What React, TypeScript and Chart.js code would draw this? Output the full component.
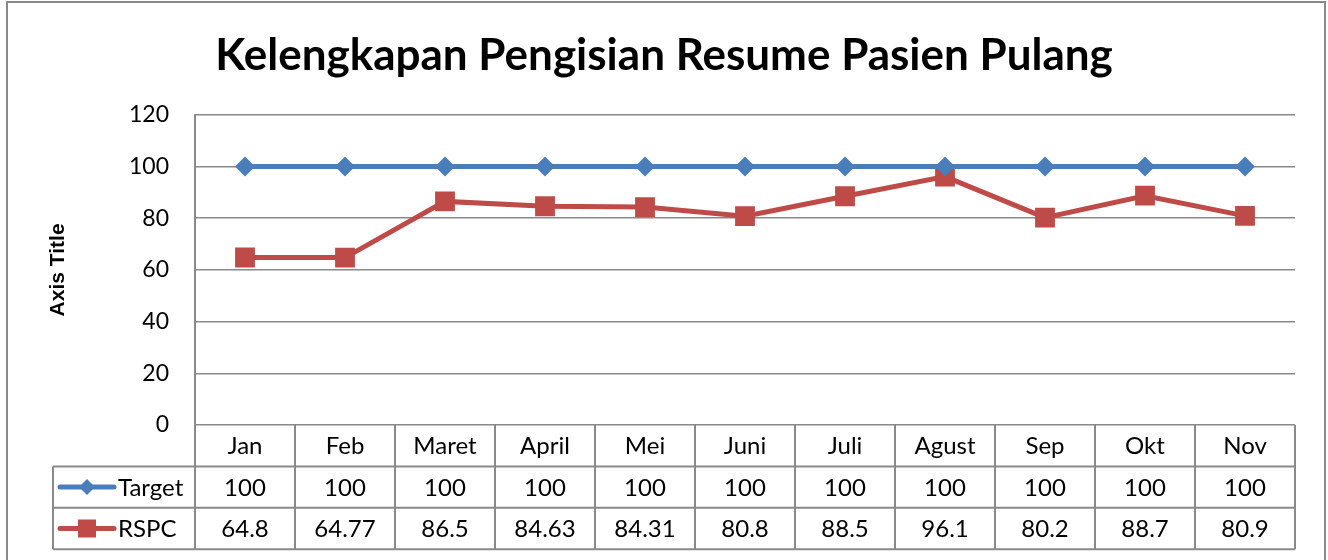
import React, { useEffect, useRef } from 'react';
import { Chart, registerables } from 'chart.js';

Chart.register(...registerables);

const titleText = 'Kelengkapan Pengisian Resume Pasien Pulang';
const yAxisTitle = 'Axis Title';
const categories = ['Jan', 'Feb', 'Maret', 'April', 'Mei', 'Juni', 'Juli', 'Agust', 'Sep', 'Okt', 'Nov'];
const targetValues = [100, 100, 100, 100, 100, 100, 100, 100, 100, 100, 100];
const rspcValues = [64.8, 64.77, 86.5, 84.63, 84.31, 80.8, 88.5, 96.1, 80.2, 88.7, 80.9];
const seriesNames = ['Target', 'RSPC'];
const yMin = 0;
const yMax = 120;
const yStep = 20;

const BLUE = '#4A7EBB';
const RED = '#BE4B48';
const GRID = '#898989';
const FONT = 'Lato, "Open Sans", sans-serif';

const frameAndTablePlugin = {
  id: 'frameAndTable',
  beforeDraw(chart: any) {
    const ctx = chart.ctx;
    ctx.save();
    ctx.fillStyle = '#ffffff';
    ctx.fillRect(0, 0, chart.width, chart.height);
    ctx.strokeStyle = GRID;
    ctx.lineWidth = 2;
    ctx.strokeRect(7, 2, 1318, 600);
    ctx.restore();
  },
  afterDraw(chart: any) {
    const ctx = chart.ctx;
    const xs = chart.scales.x;
    const area = chart.chartArea;
    const n = categories.length;
    const colW = (area.right - area.left) / n;
    const top = area.bottom;
    const rowH = 41.4;
    const legendLeft = 53;
    ctx.save();
    ctx.strokeStyle = GRID;
    ctx.lineWidth = 2;
    const line = (x1: number, y1: number, x2: number, y2: number) => {
      ctx.beginPath();
      ctx.moveTo(x1, y1);
      ctx.lineTo(x2, y2);
      ctx.stroke();
    };
    line(legendLeft, top + rowH, area.right, top + rowH);
    line(legendLeft, top + 2 * rowH, area.right, top + 2 * rowH);
    line(legendLeft, top + 3 * rowH, area.right, top + 3 * rowH);
    line(legendLeft, top + rowH, legendLeft, top + 3 * rowH);
    for (let i = 0; i <= n; i++) {
      const xb = area.left + i * colW;
      line(xb, top, xb, top + 3 * rowH);
    }
    ctx.fillStyle = '#000';
    ctx.font = `24px ${FONT}`;
    ctx.textAlign = 'center';
    ctx.textBaseline = 'middle';
    const rows = [targetValues, rspcValues];
    rows.forEach((vals, r) => {
      const cy = top + (r + 1.5) * rowH;
      vals.forEach((v, i) => {
        ctx.fillText(String(v), xs.getPixelForValue(i), cy + 1);
      });
    });
    // legend keys
    rows.forEach((_, r) => {
      const cy = top + (r + 1.5) * rowH;
      const color = r === 0 ? BLUE : RED;
      ctx.strokeStyle = color;
      ctx.lineWidth = 5;
      ctx.lineCap = 'round';
      line(60, cy, 114, cy);
      ctx.fillStyle = color;
      ctx.beginPath();
      if (r === 0) {
        ctx.moveTo(87, cy - 8);
        ctx.lineTo(95, cy);
        ctx.lineTo(87, cy + 8);
        ctx.lineTo(79, cy);
        ctx.closePath();
      } else {
        ctx.rect(78, cy - 9, 18, 18);
      }
      ctx.fill();
      ctx.fillStyle = '#000';
      ctx.textAlign = 'left';
      ctx.fillText(seriesNames[r], 118, cy + 1);
      ctx.textAlign = 'center';
    });
    ctx.restore();
  },
};

export default function App() {
  const ref = useRef<HTMLCanvasElement>(null);
  useEffect(() => {
    const canvas = ref.current;
    if (!canvas) return;
    const chart = new Chart(canvas, {
      type: 'line',
      data: {
        labels: categories,
        datasets: [
          {
            label: seriesNames[0],
            data: targetValues,
            borderColor: BLUE,
            backgroundColor: BLUE,
            borderWidth: 5,
            pointStyle: 'rectRot',
            pointRadius: 10,
            pointHoverRadius: 10,
            pointBorderWidth: 0,
            tension: 0,
          },
          {
            label: seriesNames[1],
            data: rspcValues,
            borderColor: RED,
            backgroundColor: RED,
            borderWidth: 5,
            pointStyle: 'rect',
            pointRadius: 14,
            pointHoverRadius: 14,
            pointBorderWidth: 0,
            tension: 0,
          },
        ],
      },
      options: {
        responsive: false,
        animation: false,
        layout: { padding: { top: 0, right: 0, bottom: 0, left: 0 } },
        plugins: {
          legend: { display: false },
          tooltip: { enabled: false },
          title: {
            display: true,
            text: titleText,
            color: '#000',
            font: { family: FONT, size: 44, weight: 'bold' },
            padding: { top: 29, bottom: 33 },
          },
        },
        scales: {
          x: {
            type: 'category',
            offset: true,
            grid: { display: false, drawTicks: false },
            border: { display: false },
            ticks: {
              color: '#000',
              font: { family: FONT, size: 24 },
              padding: 7,
              autoSkip: false,
              maxRotation: 0,
              minRotation: 0,
            },
            afterFit(scale: any) {
              scale.height = 135;
            },
          },
          y: {
            min: yMin,
            max: yMax,
            grid: { color: GRID, lineWidth: 1.5, drawTicks: false },
            border: { display: true, color: GRID, width: 2 },
            ticks: {
              stepSize: yStep,
              color: '#000',
              font: { family: FONT, size: 23 },
              padding: 26,
            },
            title: {
              display: true,
              text: yAxisTitle,
              color: '#000',
              font: { family: '"Liberation Sans", Arial, sans-serif', size: 21, weight: 'bold' },
              padding: { top: 46, bottom: 0 },
            },
            afterFit(scale: any) {
              scale.width = 195;
            },
          },
          yRight: {
            position: 'right',
            min: yMin,
            max: yMax,
            grid: { display: false, drawTicks: false },
            border: { display: false },
            ticks: { display: false },
            afterFit(scale: any) {
              scale.width = 33;
            },
          },
        },
      },
      plugins: [frameAndTablePlugin],
    });
    return () => chart.destroy();
  }, []);
  return (
    <div style={{ position: 'fixed', left: 0, top: 0, width: 1328, height: 560 }}>
      <canvas ref={ref} width={1328} height={560} style={{ display: 'block' }} />
    </div>
  );
}
